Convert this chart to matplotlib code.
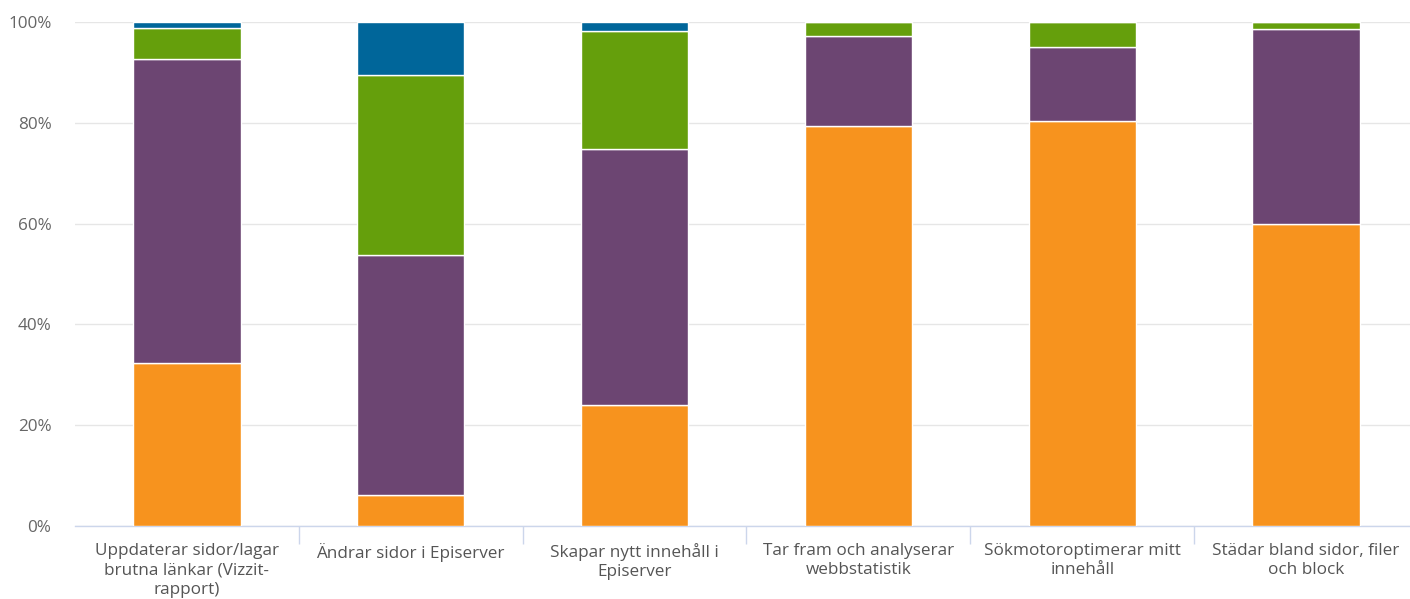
import matplotlib.pyplot as plt
import numpy as np

categories = [
    "Uppdaterar sidor/lagar\nbrutna länkar (Vizzit-\nrapport)",
    "Ändrar sidor i Episerver",
    "Skapar nytt innehåll i\nEpiserver",
    "Tar fram och analyserar\nwebbstatistik",
    "Sökmotoroptimerar mitt\ninnehåll",
    "Städar bland sidor, filer\noch block",
]
orange = [32.3, 6.2, 24.0, 79.4, 80.4, 59.9]
purple = [60.4, 47.6, 50.8, 17.8, 14.6, 38.7]
green = [6.1, 35.7, 23.4, 2.8, 5.0, 1.4]
blue = [1.2, 10.5, 1.8, 0.0, 0.0, 0.0]
yticks = [0, 20, 40, 60, 80, 100]

series = [(orange, "#F7931E"), (purple, "#6C4572"), (green, "#659F0C"), (blue, "#00669A")]

plt.rcParams['font.family'] = ['Open Sans', 'DejaVu Sans']

fig = plt.figure(figsize=(14.1, 5.99), dpi=100)
ax = fig.add_axes([75 / 1410, 73 / 599, 1343 / 1410, 504 / 599])

x = np.arange(len(categories))
bottom = np.zeros(len(categories))
for vals, col in series:
    v = np.array(vals)
    ax.bar(x, v, bottom=bottom, width=0.48, color=col, edgecolor="white",
           linewidth=1, zorder=3)
    bottom += v

ax.set_xlim(-0.5, len(categories) - 0.5)
ax.set_ylim(0, 100)
ax.set_yticks(yticks)
ax.set_yticklabels([f"{t}%" for t in yticks])
ax.yaxis.grid(True, color="#e6e6e6", linewidth=1, zorder=0)
ax.set_axisbelow(True)

ax.set_xticks(x)
ax.set_xticklabels(categories, fontsize=12.3, color="#555555", linespacing=1.3)
ax.set_xticks(np.arange(1, len(categories)) - 0.5, minor=True)
ax.tick_params(axis="x", which="major", length=0, pad=12)
ax.tick_params(axis="x", which="minor", length=13, color="#ccd6eb", width=1)
ax.tick_params(axis="y", length=0, labelsize=12.3, labelcolor="#666666", pad=17)

for s in ["top", "right", "left"]:
    ax.spines[s].set_visible(False)
ax.spines["bottom"].set_color("#ccd6eb")
ax.spines["bottom"].set_linewidth(1)

fig.savefig("out.png", dpi=100)
